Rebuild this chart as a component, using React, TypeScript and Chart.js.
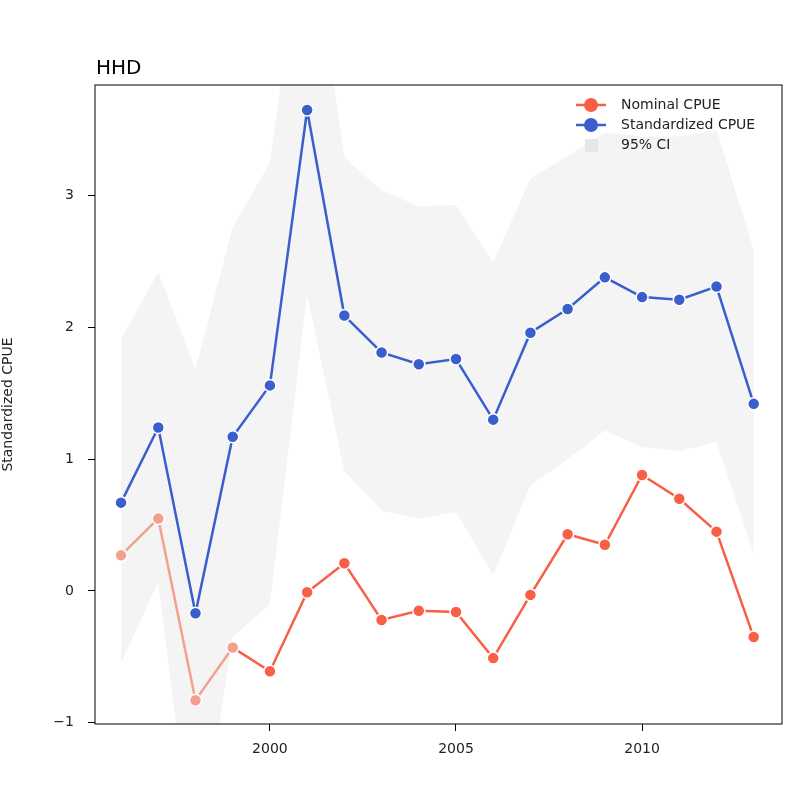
import React, { useEffect, useRef } from "react";
import Chart from "chart.js/auto";

const years = [1996, 1997, 1998, 1999, 2000, 2001, 2002, 2003, 2004, 2005, 2006, 2007, 2008, 2009, 2010, 2011, 2012, 2013];
const standardized = [0.67, 1.24, -0.17, 1.17, 1.56, 3.65, 2.09, 1.81, 1.72, 1.76, 1.3, 1.96, 2.14, 2.38, 2.23, 2.21, 2.31, 1.42];
const nominal = [0.27, 0.55, -0.83, -0.43, -0.61, -0.01, 0.21, -0.22, -0.15, -0.16, -0.51, -0.03, 0.43, 0.35, 0.88, 0.7, 0.45, -0.35];
const ciUpper = [1.91, 2.42, 1.68, 2.76, 3.25, 5.3, 3.29, 3.04, 2.92, 2.93, 2.49, 3.13, 3.3, 3.48, 3.45, 3.45, 3.5, 2.59];
const ciLower = [-0.55, 0.07, -2.2, -0.35, -0.1, 2.25, 0.91, 0.61, 0.55, 0.6, 0.12, 0.8, 1.0, 1.22, 1.09, 1.06, 1.13, 0.28];
const xTicks = [2000, 2005, 2010];
const yTicks = [-1, 0, 1, 2, 3];

const RED = "#f95f45";
const RED_LIGHT = "#f4a08e";
const BLUE = "#3a5fcd";
const FONT = "'DejaVu Sans', sans-serif";

function App() {
  const canvasRef = useRef<any>(null);

  useEffect(() => {
    const pts = (vals: number[]) => years.map((x, i) => ({ x, y: vals[i] }));
    const extras = {
      id: "extras",
      afterDraw(chart: any) {
        const { ctx, chartArea: a } = chart;
        ctx.save();
        ctx.strokeStyle = "#000";
        ctx.lineWidth = 1;
        ctx.strokeRect(a.left, a.top, a.right - a.left, a.bottom - a.top);
        ctx.fillStyle = "#000";
        ctx.font = `20px ${FONT}`;
        ctx.textBaseline = "alphabetic";
        ctx.fillText("HHD", 96, 74);
        // legend
        ctx.font = `14px ${FONT}`;
        const items = [
          { c: RED, t: "Nominal CPUE" },
          { c: BLUE, t: "Standardized CPUE" },
        ];
        items.forEach((it, i) => {
          const y = 105 + i * 20;
          ctx.strokeStyle = it.c;
          ctx.lineWidth = 2.5;
          ctx.beginPath();
          ctx.moveTo(576, y);
          ctx.lineTo(606, y);
          ctx.stroke();
          ctx.fillStyle = it.c;
          ctx.beginPath();
          ctx.arc(591, y, 7, 0, Math.PI * 2);
          ctx.fill();
          ctx.fillStyle = "#222";
          ctx.textBaseline = "middle";
          ctx.fillText(it.t, 621, y);
        });
        ctx.fillStyle = "#e6e6e6";
        ctx.fillRect(585, 139, 13, 13);
        ctx.fillStyle = "#222";
        ctx.fillText("95% CI", 621, 145);
        ctx.restore();
      },
    };

    const chart = new Chart(canvasRef.current, {
      type: "line",
      data: {
        datasets: [
          {
            label: "lower",
            data: pts(ciLower),
            borderWidth: 0,
            pointRadius: 0,
            fill: false,
            order: 3,
          },
          {
            label: "95% CI",
            data: pts(ciUpper),
            borderWidth: 0,
            pointRadius: 0,
            backgroundColor: "rgba(236,236,236,0.6)",
            fill: "-1",
            order: 2,
          },
          {
            label: "Nominal CPUE",
            data: pts(nominal),
            borderColor: RED,
            borderWidth: 2.5,
            pointRadius: 6,
            pointBorderWidth: 1.5,
            pointBorderColor: "#fff",
            pointBackgroundColor: years.map((y) => (y <= 1999 ? RED_LIGHT : RED)),
            segment: {
              borderColor: (c: any) => (c.p1.parsed.x <= 1999 ? RED_LIGHT : RED),
            },
            fill: false,
            order: 1,
          },
          {
            label: "Standardized CPUE",
            data: pts(standardized),
            borderColor: BLUE,
            borderWidth: 2.5,
            pointRadius: 6,
            pointBorderWidth: 1.5,
            pointBorderColor: "#fff",
            pointBackgroundColor: BLUE,
            fill: false,
            order: 0,
          },
        ],
      },
      options: {
        animation: false,
        responsive: false,
        layout: { padding: { top: 85, right: 18, left: 0, bottom: 0 } },
        plugins: {
          legend: { display: false },
          tooltip: { enabled: false },
          filler: { drawTime: "beforeDatasetsDraw" },
        },
        scales: {
          x: {
            type: "linear",
            min: 1995.3,
            max: 2013.76,
            afterBuildTicks: (s: any) => {
              s.ticks = xTicks.map((v) => ({ value: v }));
            },
            afterFit: (s: any) => {
              s.height = 76;
            },
            grid: { drawOnChartArea: false, tickLength: 7, color: "#000" },
            border: { display: false },
            ticks: { color: "#222", font: { family: FONT, size: 14 }, padding: 10, callback: (v: any) => String(v) },
          },
          y: {
            min: -1.01,
            max: 3.84,
            afterBuildTicks: (s: any) => {
              s.ticks = yTicks.map((v) => ({ value: v }));
            },
            afterFit: (s: any) => {
              s.width = 95;
            },
            grid: { drawOnChartArea: false, tickLength: 7, color: "#000" },
            border: { display: false },
            title: { display: true, text: "Standardized CPUE", color: "#222", font: { family: FONT, size: 14 }, padding: { top: 0, bottom: 0 } },
            ticks: { color: "#222", font: { family: FONT, size: 14 }, padding: 14, callback: (v: any) => (v < 0 ? "\u2212" + Math.abs(v) : String(v)) },
          },
        },
      },
      plugins: [extras],
    } as any);

    return () => {
      chart.destroy();
    };
  }, []);

  return (
    <div style={{ position: "fixed", left: 0, top: 0, width: 800, height: 800, background: "#fff" }}>
      <canvas ref={canvasRef} width={800} height={800} style={{ width: 800, height: 800 }} />
    </div>
  );
}

export default App;
